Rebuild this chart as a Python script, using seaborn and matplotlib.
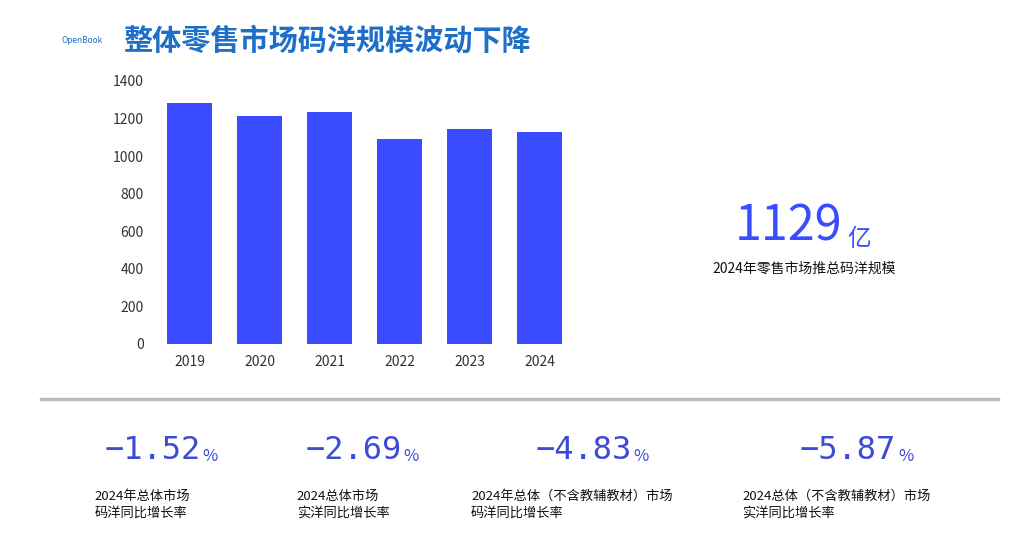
import matplotlib
matplotlib.use("Agg")
import matplotlib.pyplot as plt
import seaborn as sns
import pandas as pd

years = ["2019", "2020", "2021", "2022", "2023", "2024"]
values = [1285, 1215, 1237, 1093, 1146, 1129]
stat_values = ["−1.52", "−2.69", "−4.83", "−5.87"]
stat_labels = ["2024年总体市场\n码洋同比增长率", "2024总体市场\n实洋同比增长率",
               "2024年总体（不含教辅教材）市场\n码洋同比增长率", "2024总体（不含教辅教材）市场\n实洋同比增长率"]

plt.rcParams["font.family"] = ["Noto Sans CJK SC", "DejaVu Sans"]
fig = plt.figure(figsize=(10.24, 5.4), dpi=100)
ax = fig.add_axes([0.151, 0.363, 0.41, 0.487])
df = pd.DataFrame({"year": years, "v": values})
sns.barplot(data=df, x="year", y="v", color="#3B4BFF", saturation=1, width=0.65, ax=ax)
ax.set_ylim(0, 1400)
ax.set_yticks(range(0, 1401, 200))
ax.set_xlabel(""); ax.set_ylabel("")
for s in ax.spines.values():
    s.set_visible(False)
ax.tick_params(length=0, labelsize=10, colors="#333333", pad=8)

fig.text(0.12, 0.925, "整体零售市场码洋规模波动下降", fontsize=21, fontweight="bold", color="#1E6FC8", va="center")
fig.text(0.06, 0.925, "OpenBook", fontsize=6, color="#1E6FC8", va="center")

fig.text(0.823, 0.58, "1129", fontsize=35, color="#3B4BFF", ha="right", va="center")
fig.text(0.827, 0.557, "亿", fontsize=17, color="#3B4BFF", ha="left", va="center")
fig.text(0.785, 0.503, "2024年零售市场推总码洋规模", fontsize=10, color="#111111", ha="center", va="center")

fig.add_artist(plt.Line2D([0.04, 0.975], [0.262, 0.262], color="#BBBBBB", lw=2.5, transform=fig.transFigure))

ends = [0.196, 0.392, 0.617, 0.875]
lx = [0.092, 0.29, 0.46, 0.725]
for x, v, l, l0 in zip(ends, stat_values, stat_labels, lx):
    fig.text(x, 0.165, v, fontsize=23, color="#3B4BD8", ha="right", va="center", family="DejaVu Sans Mono")
    fig.text(x + 0.002, 0.155, "%", fontsize=12, color="#3B4BD8", ha="left", va="center")
    fig.text(l0, 0.065, l, fontsize=9.5, color="#111111", ha="left", va="center", linespacing=1.4)

fig.savefig("out.png", dpi=100)
